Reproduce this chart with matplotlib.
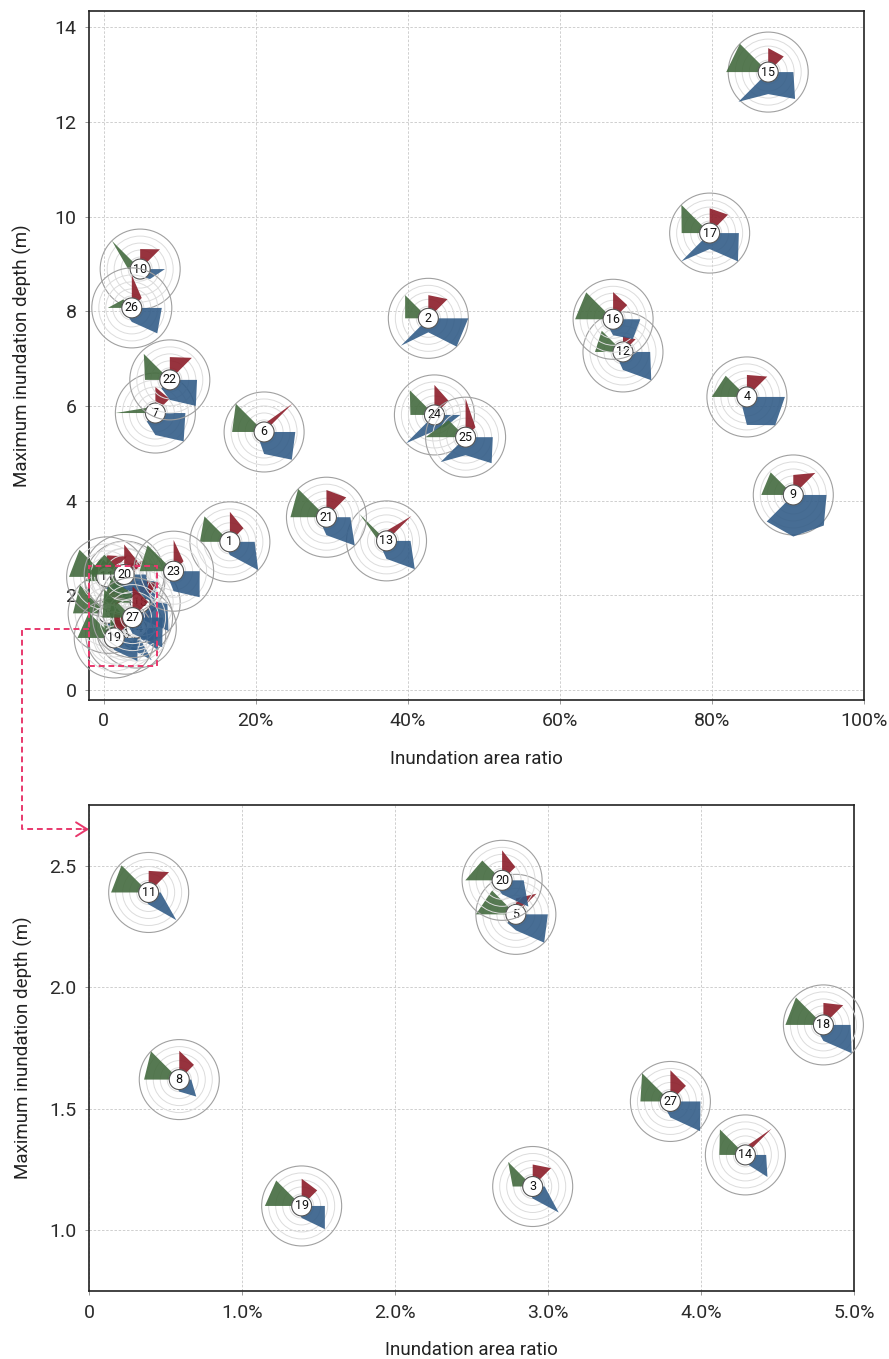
import numpy as np
import matplotlib
matplotlib.use("Agg")
from matplotlib import pyplot as plt
from matplotlib.patches import Polygon, Circle, Rectangle
from matplotlib.transforms import Affine2D, ScaledTranslation
from matplotlib.lines import Line2D
from matplotlib.ticker import FuncFormatter, MultipleLocator

plt.rcParams['font.family'] = ['Roboto', 'DejaVu Sans']

# site ids and position (x: inundation area ratio in %, y: max depth in m)
ids = list(range(1, 28))
area_ratio = [16.6, 42.7, 2.90, 84.6, 2.79, 21.1, 6.8, 0.59, 90.7, 4.8,
              0.39, 68.3, 37.2, 4.29, 87.4, 67.0, 79.7, 4.80, 1.39, 2.70,
              29.3, 8.7, 9.2, 43.5, 47.6, 3.7, 3.80]
max_depth = [3.13, 7.85, 1.18, 6.19, 2.30, 5.45, 5.85, 1.62, 4.12, 8.89,
             2.39, 7.14, 3.15, 1.31, 13.05, 7.83, 9.65, 1.845, 1.10, 2.44,
             3.65, 6.55, 2.51, 5.81, 5.34, 8.07, 1.53]

# glyph values (fraction of glyph radius) per direction
green_135 = [.90, .82, .87, .75, .84, 1.0, .20, 1.0, .80, 1.0,
             .96, .75, .95, .90, 1.0, .95, 1.0, .97, .90, .70,
             1.0, .92, .92, .87, .60, .30, 1.0]
green_180 = [.75, .58, .50, .88, 1.0, .80, 1.0, .88, .80, .30,
             .94, .70, .20, .65, 1.05, .95, .70, .95, .92, .92,
             .90, .62, .85, .60, 1.0, .60, .75]
red_45 = [.48, .68, .65, .72, .73, 1.0, .50, .52, .78, .70,
          .72, .45, .88, .93, .55, .50, .65, .70, .55, .47,
          .70, .78, .35, .50, .35, .35, .55]
red_90 = [.75, .58, .55, .55, .40, .20, .65, .72, .50, .50,
          .54, .40, .25, .20, .60, .68, .62, .55, .68, .75,
          .68, .57, .78, .75, .97, .82, .78]
blue_0 = [.62, 1.0, .30, .95, .80, .78, .75, .30, .83, .62,
          .30, .68, .60, .52, .63, .68, .73, .68, .58, .54,
          .60, .68, .65, .65, .68, .75, .75]
blue_315 = [1.0, 1.0, .92, 1.0, 1.0, .98, 1.0, .60, 1.08, .35,
            .98, 1.0, 1.0, .78, .95, .70, 1.0, 1.0, .82, .93,
            1.0, .92, .92, .40, .92, .90, 1.05]
blue_270 = [.33, .35, .30, .70, .40, .55, .55, .30, 1.04, .20,
            .30, .45, .45, .20, .55, .40, .40, .40, .30, .35,
            .45, .50, .50, .40, .45, .35, .40]
blue_225 = [.15, .97, .15, .20, .30, .20, .30, .15, .94, .20,
            .20, .20, .20, .15, 1.05, .20, 1.0, .20, .15, .20,
            .20, .30, .20, 1.0, .88, .20, .20]

GREEN = "#446b3f"
RED = "#8c1d29"
BLUE = "#335d88"
PINK = "#e8386c"
R_PX = 40.0
RINGS = [0.3, 0.475, 0.65, 0.825]


def pt(deg, r):
    a = np.deg2rad(deg)
    return (r * np.cos(a), r * np.sin(a))


def draw_glyph(ax, i, z):
    x, y = area_ratio[i], max_depth[i]
    tr = Affine2D().scale(R_PX) + ScaledTranslation(x, y, ax.transData)
    for rr in RINGS:
        ax.add_patch(Circle((0, 0), rr, transform=tr, fill=False, ec="#dcdcdc",
                            lw=0.7, zorder=z, clip_on=False))
    ax.add_patch(Circle((0, 0), 1.0, transform=tr, fill=False, ec="#a0a0a0",
                        lw=0.8, zorder=z, clip_on=False))
    green = [(0, 0), pt(135, green_135[i]), pt(180, green_180[i])]
    red = [(0, 0), pt(45, red_45[i]), pt(90, red_90[i])]
    blue = [(0, 0), pt(0, blue_0[i]), pt(315, blue_315[i]),
            pt(270, blue_270[i]), pt(225, blue_225[i])]
    for verts, c in [(green, GREEN), (red, RED), (blue, BLUE)]:
        ax.add_patch(Polygon(verts, closed=True, transform=tr, fc=c, ec="none",
                             alpha=0.9, zorder=z + 0.1, clip_on=False))
    ax.add_patch(Circle((0, 0), 10.0 / R_PX, transform=tr, fc="white", ec="#555555",
                        lw=0.8, zorder=z + 0.2, clip_on=False))
    ax.text(x, y, str(ids[i]), ha="center", va="center", fontsize=9,
            color="#111111", zorder=z + 0.3, clip_on=False)


def style_axes(ax):
    ax.grid(True, color="#c8c8c8", lw=0.6, ls=(0, (3, 2)))
    ax.set_axisbelow(True)
    for s in ax.spines.values():
        s.set_color("#222222")
        s.set_linewidth(1.2)
    ax.tick_params(labelsize=14, labelcolor="#2a2a2a", color="#999999",
                   length=3, width=0.7, pad=6)


fig = plt.figure(figsize=(8.89, 13.59), dpi=100)
W, H = 889.0, 1359.0
ax1 = fig.add_axes([89 / W, 1 - 700 / H, 775 / W, 689 / H])
ax2 = fig.add_axes([89 / W, 1 - 1291 / H, 765 / W, 486 / H])

# top chart
ax1.set_xlim(-1.93, 100)
ax1.set_ylim(-0.21, 14.34)
ax1.xaxis.set_major_locator(MultipleLocator(20))
ax1.yaxis.set_major_locator(MultipleLocator(2))
ax1.xaxis.set_major_formatter(FuncFormatter(lambda v, p: "0" if v == 0 else "%.0f%%" % v))
style_axes(ax1)
ax1.set_xlabel("Inundation area ratio", fontsize=13.5, color="#222222", labelpad=14)
ax1.set_ylabel("Maximum inundation depth (m)", fontsize=13.5, color="#222222", labelpad=16)

# bottom (zoomed) chart
ax2.set_xlim(0, 5)
ax2.set_ylim(0.75, 2.75)
ax2.xaxis.set_major_locator(MultipleLocator(1))
ax2.yaxis.set_major_locator(MultipleLocator(0.5))
ax2.xaxis.set_major_formatter(FuncFormatter(lambda v, p: "0" if v == 0 else "%.1f%%" % v))
ax2.yaxis.set_major_formatter(FuncFormatter(lambda v, p: "%.1f" % v))
style_axes(ax2)
ax2.set_xlabel("Inundation area ratio", fontsize=13.5, color="#222222", labelpad=14)
ax2.set_ylabel("Maximum inundation depth (m)", fontsize=13.5, color="#222222", labelpad=12)

for k in range(len(ids)):
    draw_glyph(ax1, k, 3 + k * 0.5)
    if area_ratio[k] <= 5 and 0.75 <= max_depth[k] <= 2.75:
        draw_glyph(ax2, k, 3 + k * 0.5)

# zoom box on the top chart
box_x = (-1.9, 7.0)
box_y = (0.5, 2.62)
ax1.add_patch(Rectangle((box_x[0], box_y[0]), box_x[1] - box_x[0], box_y[1] - box_y[0],
                        fill=False, ec=PINK, lw=1.4, ls=(0, (3, 2)), zorder=40, clip_on=False))

# connector from the box to the bottom chart
conn_y_top = 1.29
conn_y_bot = 2.65
p0 = ax1.transData.transform((box_x[0], conn_y_top))
p3 = ax2.transData.transform((0, conn_y_bot))
left_px = 22
pts_px = np.array([p0, (left_px, p0[1]), (left_px, p3[1]), (p3[0] - 2, p3[1])])
pts_fig = fig.transFigure.inverted().transform(pts_px)
fig.add_artist(Line2D(pts_fig[:, 0], pts_fig[:, 1], transform=fig.transFigure,
                      color=PINK, lw=1.4, ls=(0, (3, 2))))
ax2.annotate("", xy=(0, conn_y_bot), xycoords="data", xytext=(-4, 0),
             textcoords="offset points", annotation_clip=False,
             arrowprops=dict(arrowstyle="->,head_length=0.8,head_width=0.5",
                             color=PINK, lw=1.4, shrinkA=0, shrinkB=0))

fig.savefig("out.png", dpi=100)
